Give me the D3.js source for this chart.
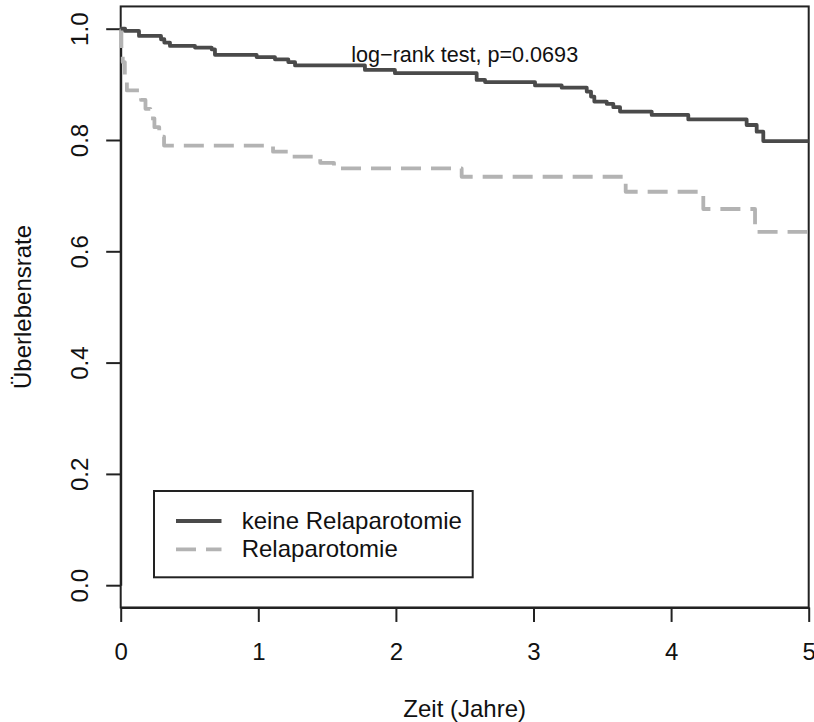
<!DOCTYPE html>
<html>
<head>
<meta charset="utf-8">
<script src="https://cdn.jsdelivr.net/npm/d3@7"></script>
<style>
  html, body { margin: 0; padding: 0; background: #fff; }
  svg { display: block; font-family: "Liberation Sans", Arial, Helvetica, sans-serif; }
</style>
</head>
<body>
<svg id="chart" width="814" height="722"></svg>
<script>
// Kaplan-Meier step curves (time in years, survival after each step)
const timesKeine = [0, 0.032, 0.133, 0.293, 0.317, 0.358, 0.540, 0.661, 0.685, 0.988, 1.121, 1.218, 1.267,
  1.775, 1.993, 2.587, 2.648, 3.011, 3.205, 3.387, 3.418, 3.442, 3.532, 3.580, 3.629, 3.859, 4.125,
  4.549, 4.622, 4.670, 5];
const survKeine = [1.0, 0.996, 0.987, 0.981, 0.975, 0.969, 0.966, 0.963, 0.953, 0.949, 0.945, 0.940, 0.934,
  0.926, 0.920, 0.908, 0.904, 0.898, 0.894, 0.887, 0.878, 0.869, 0.865, 0.859, 0.851, 0.845, 0.837,
  0.827, 0.815, 0.798, 0.798];

const timesRelap = [0, 0.005, 0.015, 0.030, 0.045, 0.148, 0.180, 0.215, 0.245, 0.280, 0.315, 1.107, 1.217,
  1.450, 1.550, 2.478, 3.670, 4.234, 4.610, 5];
const survRelap = [1.0, 0.960, 0.940, 0.915, 0.889, 0.872, 0.856, 0.839, 0.823, 0.806, 0.790, 0.779, 0.770,
  0.759, 0.749, 0.734, 0.707, 0.676, 0.635, 0.635];

const seriesNames = ["keine Relaparotomie", "Relaparotomie"];
const xTicks = [0, 1, 2, 3, 4, 5];
const yTicks = [0, 0.2, 0.4, 0.6, 0.8, 1.0];
const annotation = "log\u2212rank test, p=0.0693";
const xTitle = "Zeit (Jahre)";
const yTitle = "\u00DCberlebensrate";

const dark = "#4a4a4a";
const light = "#b3b3b3";
const ink = "#222";

const svg = d3.select("#chart");

const x = d3.scaleLinear().domain([0, 5]).range([120.7, 808.7]);
const y = d3.scaleLinear().domain([0, 1]).range([585.2, 28.7]);

// plot frame (y range padded by 4% like the usual plot region)
svg.append("rect")
  .attr("x", x(0)).attr("y", y(1.04))
  .attr("width", x(5) - x(0)).attr("height", y(-0.04) - y(1.04))
  .attr("fill", "none").attr("stroke", ink).attr("stroke-width", 2);

// x axis
const gx = svg.append("g")
  .attr("transform", `translate(0,${y(-0.04)})`)
  .call(d3.axisBottom(x).tickValues(xTicks).tickSize(14.5).tickSizeOuter(0).tickFormat(d3.format("d")));
gx.select(".domain").attr("stroke", ink).attr("stroke-width", 2);
gx.selectAll(".tick line").attr("stroke", ink).attr("stroke-width", 2);
gx.selectAll(".tick text")
  .attr("y", 52.5).attr("dy", null)
  .attr("font-size", 24).attr("fill", "#111")
  .attr("font-family", "Liberation Sans, Arial, sans-serif");

// y axis
const gy = svg.append("g")
  .attr("transform", `translate(${x(0)},0)`)
  .call(d3.axisLeft(y).tickValues(yTicks).tickSize(14.5).tickSizeOuter(0).tickFormat(d3.format(".1f")));
gy.select(".domain").attr("stroke", ink).attr("stroke-width", 2);
gy.selectAll(".tick line").attr("stroke", ink).attr("stroke-width", 2);
gy.selectAll(".tick text")
  .attr("x", null).attr("dy", null)
  .attr("transform", "translate(-32.7,0) rotate(-90)")
  .attr("text-anchor", "middle")
  .attr("font-size", 24).attr("fill", "#111")
  .attr("font-family", "Liberation Sans, Arial, sans-serif");

// axis titles
svg.append("text")
  .attr("x", (x(0) + x(5)) / 2).attr("y", 717)
  .attr("text-anchor", "middle").attr("font-size", 24).attr("fill", "#111")
  .text(xTitle);
svg.append("text")
  .attr("transform", `translate(31,${(y(1.04) + y(-0.04)) / 2}) rotate(-90)`)
  .attr("text-anchor", "middle").attr("font-size", 24).attr("fill", "#111")
  .text(yTitle);

// survival curves
const step = d3.line().x(d => x(d[0])).y(d => y(d[1])).curve(d3.curveStepAfter);

svg.append("path")
  .datum(d3.zip(timesRelap, survRelap))
  .attr("d", step)
  .attr("fill", "none").attr("stroke", light).attr("stroke-width", 3.8)
  .attr("stroke-dasharray", "20,10").attr("stroke-linejoin", "round");

svg.append("path")
  .datum(d3.zip(timesKeine, survKeine))
  .attr("d", step)
  .attr("fill", "none").attr("stroke", dark).attr("stroke-width", 3.8)
  .attr("stroke-linejoin", "round");

// test result
svg.append("text")
  .attr("x", x(2.5)).attr("y", y(0.95)).attr("dy", "0.24em")
  .attr("text-anchor", "middle").attr("font-size", 21.6).attr("fill", "#111")
  .text(annotation);

// legend
const legend = svg.append("g");
legend.append("rect")
  .attr("x", 154).attr("y", 491).attr("width", 318.7).attr("height", 86.3)
  .attr("fill", "#fff").attr("stroke", ink).attr("stroke-width", 2);
const legendRows = [
  { name: seriesNames[0], color: dark, dash: null },
  { name: seriesNames[1], color: light, dash: "20,10" }
];
legendRows.forEach((r, i) => {
  const cy = 521 + i * 28.3;
  legend.append("line")
    .attr("x1", 176).attr("x2", 221.5).attr("y1", cy).attr("y2", cy)
    .attr("stroke", r.color).attr("stroke-width", 3.8)
    .attr("stroke-dasharray", r.dash);
  legend.append("text")
    .attr("x", 241.7).attr("y", cy + 7.5)
    .attr("font-size", 24).attr("fill", "#111")
    .text(r.name);
});
</script>
</body>
</html>
